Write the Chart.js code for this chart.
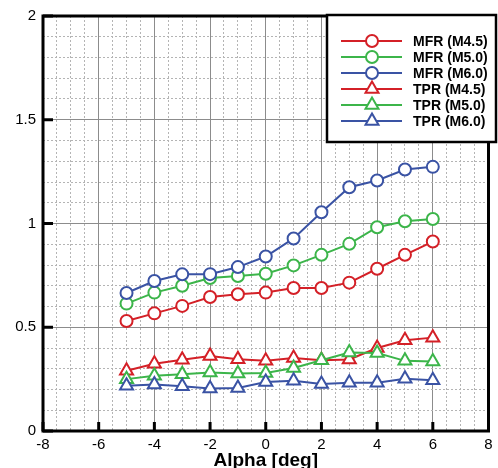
<!DOCTYPE html>
<html>
<head>
<meta charset="utf-8">
<script src="https://cdn.jsdelivr.net/npm/chart.js@4"></script>
<style>
  html, body { margin: 0; padding: 0; background: #fff; overflow: hidden; }
  #wrap { width: 498px; height: 468px; }
</style>
</head>
<body>
<div id="wrap"><canvas id="resultChart" width="498" height="468"></canvas></div>
<script>
// angle of attack
const alpha = [-5, -4, -3, -2, -1, 0, 1, 2, 3, 4, 5, 6];

// mass flow ratio
const mfrM45 = [0.53, 0.567, 0.603, 0.646, 0.659, 0.667, 0.689, 0.689, 0.715, 0.782, 0.849, 0.913];
const mfrM50 = [0.614, 0.667, 0.70, 0.737, 0.747, 0.758, 0.798, 0.849, 0.902, 0.982, 1.011, 1.022];
const mfrM60 = [0.665, 0.723, 0.755, 0.756, 0.79, 0.841, 0.928, 1.054, 1.175, 1.207, 1.26, 1.273];

// total pressure recovery
const tprM45 = [0.29, 0.324, 0.343, 0.362, 0.346, 0.338, 0.352, 0.341, 0.345, 0.40, 0.437, 0.45];
const tprM50 = [0.25, 0.266, 0.274, 0.282, 0.277, 0.28, 0.304, 0.341, 0.378, 0.376, 0.338, 0.335];
const tprM60 = [0.218, 0.224, 0.216, 0.205, 0.207, 0.236, 0.242, 0.226, 0.232, 0.232, 0.252, 0.245];

const seriesLabels = ["MFR (M4.5)", "MFR (M5.0)", "MFR (M6.0)", "TPR (M4.5)", "TPR (M5.0)", "TPR (M6.0)"];
const xTicks = [-8, -6, -4, -2, 0, 2, 4, 6, 8];
const yTicks = [0, 0.5, 1, 1.5, 2];

const RED = "#d42027", GREEN = "#3cb54a", BLUE = "#3a53a4";
const FONT = "'Liberation Sans', Arial, sans-serif";

function toPoints(ys) {
  return ys.map((y, i) => ({ x: alpha[i], y: y }));
}

function makeSet(label, ys, color, shape, order) {
  return {
    label: label,
    data: toPoints(ys),
    borderColor: color,
    backgroundColor: color,
    borderWidth: 2,
    pointStyle: shape,
    pointRadius: shape === "circle" ? 6 : 7.5,
    pointBorderWidth: 2,
    pointBackgroundColor: "#fff",
    pointBorderColor: color,
    tension: 0,
    order: order
  };
}

function isMajor(v, step) {
  const r = v / step;
  return Math.abs(r - Math.round(r)) < 1e-6;
}

// frame, inward ticks and legend box
const framePlugin = {
  id: "frame",
  afterDraw(chart) {
    const ctx = chart.ctx;
    const a = chart.chartArea;
    const xs = chart.scales.x, ys = chart.scales.y;
    ctx.save();
    ctx.strokeStyle = "#000";
    ctx.lineWidth = 3;
    ctx.strokeRect(a.left, a.top, a.right - a.left, a.bottom - a.top);

    ctx.lineWidth = 3;
    ctx.beginPath();
    xTicks.forEach(v => {
      const px = xs.getPixelForValue(v);
      ctx.moveTo(px, a.bottom);
      ctx.lineTo(px, a.bottom - 9);
    });
    yTicks.forEach(v => {
      const py = ys.getPixelForValue(v);
      ctx.moveTo(a.left, py);
      ctx.lineTo(a.left + 10, py);
    });
    ctx.stroke();

    // legend
    const box = { left: 327, top: 15, right: 496, bottom: 142 };
    ctx.fillStyle = "#fff";
    ctx.fillRect(box.left, box.top, box.right - box.left, box.bottom - box.top);
    ctx.lineWidth = 2.5;
    ctx.strokeStyle = "#000";
    ctx.strokeRect(box.left, box.top, box.right - box.left, box.bottom - box.top);

    ctx.font = "bold 14px " + FONT;
    ctx.textBaseline = "middle";
    ctx.textAlign = "left";
    chart.data.datasets.forEach((ds, i) => {
      const y = 41 + i * 16;
      ctx.strokeStyle = ds.borderColor;
      ctx.lineWidth = 2;
      ctx.beginPath();
      ctx.moveTo(341, y);
      ctx.lineTo(402, y);
      ctx.stroke();
      ctx.fillStyle = "#fff";
      Chart.helpers.drawPoint(ctx, {
        pointStyle: ds.pointStyle,
        radius: ds.pointRadius,
        borderWidth: 2,
        rotation: 0
      }, 372, y);
      ctx.fillStyle = "#000";
      ctx.fillText(ds.label, 413, y + 1);
    });
    ctx.restore();
  }
};

const ctx = document.getElementById("resultChart");

new Chart(ctx, {
  type: "line",
  data: {
    datasets: [
      makeSet(seriesLabels[0], mfrM45, RED, "circle", 5),
      makeSet(seriesLabels[1], mfrM50, GREEN, "circle", 4),
      makeSet(seriesLabels[2], mfrM60, BLUE, "circle", 3),
      makeSet(seriesLabels[3], tprM45, RED, "triangle", 2),
      makeSet(seriesLabels[4], tprM50, GREEN, "triangle", 1),
      makeSet(seriesLabels[5], tprM60, BLUE, "triangle", 0)
    ]
  },
  options: {
    responsive: false,
    animation: false,
    layout: { padding: { top: 15, right: 0, left: 0, bottom: 0 } },
    plugins: {
      legend: { display: false },
      tooltip: { enabled: false }
    },
    scales: {
      x: {
        type: "linear",
        min: -8,
        max: 8,
        afterFit(scale) {
          scale.height = 37;
          scale.paddingLeft = 0;
          scale.paddingRight = 0;
        },
        ticks: {
          stepSize: 0.5,
          autoSkip: false,
          maxRotation: 0,
          padding: 5,
          color: "#000",
          font: { family: FONT, size: 15 },
          callback: v => (isMajor(v, 2) ? String(Math.round(v)) : "")
        },
        grid: {
          drawTicks: false,
          color: c => (c.tick && isMajor(c.tick.value, 2) ? "#8c8c8c" : "#b4b4b4"),
          lineWidth: 1
        },
        border: {
          display: false,
          dash: c => (c.tick && isMajor(c.tick.value, 2) ? [] : [2, 2])
        },
        title: {
          display: true,
          text: "Alpha [deg]",
          color: "#000",
          font: { family: FONT, size: 19, weight: "bold", lineHeight: "14px" },
          padding: 0
        }
      },
      y: {
        type: "linear",
        min: 0,
        max: 2,
        afterFit(scale) {
          scale.width = 43;
        },
        ticks: {
          stepSize: 0.1,
          autoSkip: false,
          padding: 7,
          color: "#000",
          font: { family: FONT, size: 15 },
          callback: v => (isMajor(v, 0.5) ? String(Math.round(v * 2) / 2) : "")
        },
        grid: {
          drawTicks: false,
          color: c => (c.tick && isMajor(c.tick.value, 0.5) ? "#8c8c8c" : "#b4b4b4"),
          lineWidth: 1
        },
        border: {
          display: false,
          dash: c => (c.tick && isMajor(c.tick.value, 0.5) ? [] : [2, 2])
        }
      }
    }
  },
  plugins: [framePlugin]
});
</script>
</body>
</html>
